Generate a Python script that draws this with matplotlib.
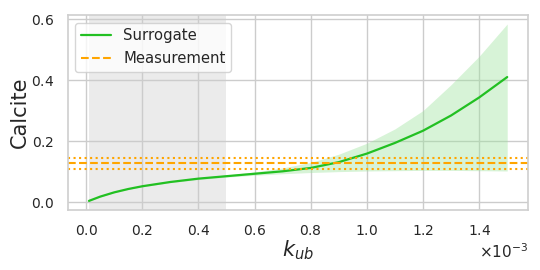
import numpy as np
import matplotlib
matplotlib.use("Agg")
import matplotlib.pyplot as plt
import seaborn as sns

# Data (x in units of k_ub)
k_ub = [0.01e-3, 0.05e-3, 0.10e-3, 0.15e-3, 0.2e-3, 0.3e-3, 0.4e-3, 0.5e-3,
        0.6e-3, 0.7e-3, 0.8e-3, 0.9e-3, 1.0e-3, 1.1e-3, 1.2e-3, 1.3e-3,
        1.4e-3, 1.5e-3]
surrogate = [0.004, 0.018, 0.032, 0.043, 0.052, 0.066, 0.077, 0.085,
             0.093, 0.101, 0.112, 0.131, 0.159, 0.194, 0.234, 0.284,
             0.343, 0.410]
upper = [0.005, 0.019, 0.033, 0.044, 0.054, 0.068, 0.080, 0.089,
         0.099, 0.112, 0.130, 0.157, 0.193, 0.240, 0.300, 0.385,
         0.478, 0.584]
lower = [0.003, 0.017, 0.031, 0.042, 0.050, 0.064, 0.074, 0.082,
         0.088, 0.093, 0.097, 0.100, 0.102, 0.103, 0.104, 0.104,
         0.103, 0.102]
measurement = 0.127
measurement_err = 0.017
prior_range = [0.01e-3, 0.5e-3]

sns.set_theme(style="whitegrid")
plt.rcParams['font.family'] = ['DejaVu Sans']
plt.rcParams['axes.edgecolor'] = '#d0d0d0'
plt.rcParams['axes.formatter.use_mathtext'] = True

fig = plt.figure(figsize=(5.4, 2.7), dpi=100)
ax = fig.add_axes([0.126, 0.222, 0.852, 0.722])

ax.axvspan(prior_range[0], prior_range[1], color='#d9d9d9', alpha=0.5, lw=0, zorder=0)

ax.fill_between(k_ub, lower, upper, color='#9be39b', alpha=0.4, lw=0)
ax.plot(k_ub, surrogate, color='#22c022', lw=1.6, label='Surrogate')
ax.axhline(measurement, color='orange', ls='--', lw=1.5, label='Measurement')
ax.axhline(measurement + measurement_err, color='orange', ls=':', lw=1.5)
ax.axhline(measurement - measurement_err, color='orange', ls=':', lw=1.5)

ax.set_ylabel('Calcite', fontsize=15, labelpad=1)
ax.set_xlabel('$k_{ub}$', fontsize=15, labelpad=0)
ax.tick_params(labelsize=10, pad=4)
ax.set_yticks([0.0, 0.2, 0.4, 0.6])
ax.ticklabel_format(axis='x', style='sci', scilimits=(0, 0), useMathText=True)
ax.xaxis.get_offset_text().set_fontsize(11)
ax.legend(loc='upper left', fontsize=10.7)

fig.savefig('out.png', dpi=100)
